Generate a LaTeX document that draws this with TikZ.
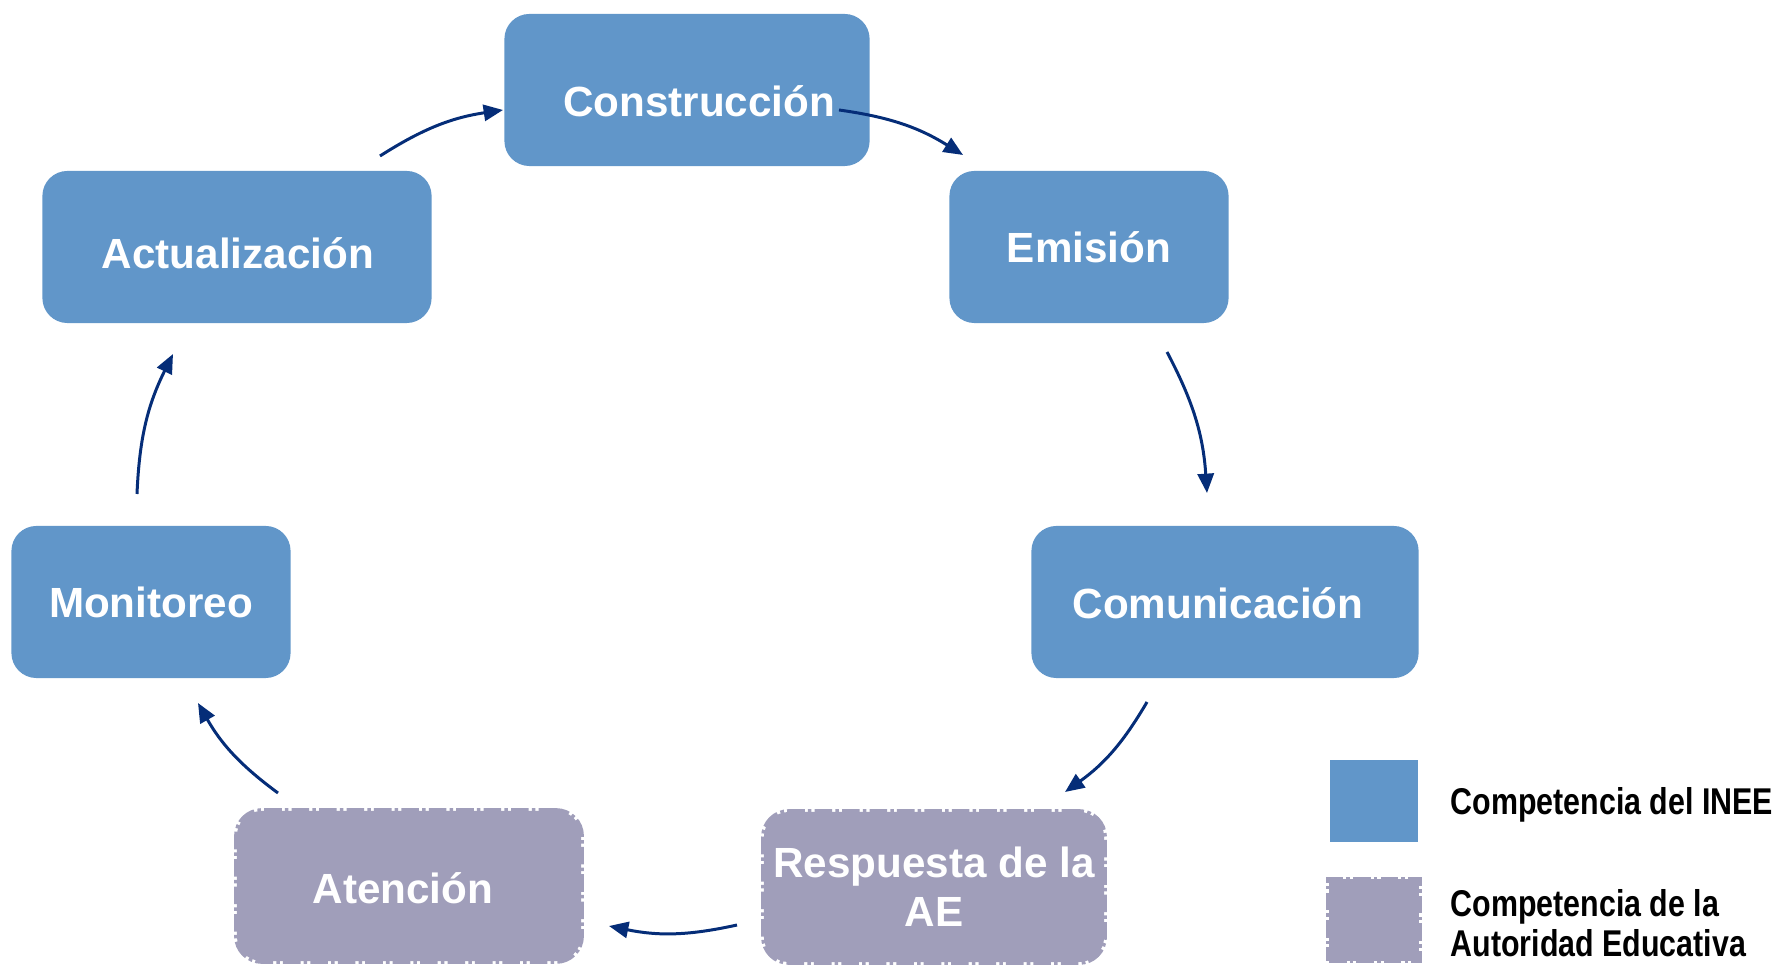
\documentclass[tikz,border=0pt]{standalone}
\usepackage{fontspec}
\setmainfont{Liberation Sans}
\newfontfamily\narrowfont[FakeStretch=0.815]{Liberation Sans}
\usetikzlibrary{positioning,arrows.meta}
\definecolor{ineeblue}{RGB}{97,150,201}
\definecolor{aegray}{RGB}{160,158,186}
\definecolor{flownavy}{RGB}{5,45,120}

\begin{document}
\begin{tikzpicture}[x=0.01cm,y=-0.01cm,inee/.style={fill=ineeblue,rounded
corners=0.25cm,minimum height=1.52cm,inner sep=0pt,text=white,
font=\bfseries\fontsize{12}{13.9}\selectfont,align=center},ae/.style={inee,
fill=aegray,draw=aegray,line width=1.6pt,dash pattern=on 5pt off 0.9pt on 1pt off 0.9pt,
minimum height=1.5cm},boxtext/.style={text=white,font=\bfseries\fontsize{12}{13.9}\selectfont},
flow/.style={draw=flownavy,line width=0.85pt,
-{Triangle[length=5.5pt,width=4.6pt]},bend left=12},keytext/.style={anchor=west,
inner sep=0pt,align=left,font=\narrowfont\bfseries\fontsize{10.6}{11.4}\selectfont}]
\useasboundingbox (0,0) rectangle (1777,965);
\node[inee,minimum width=3.65cm,label={[boxtext,xshift=0.12cm,yshift=-0.11cm]center:Construcción}]
  (cons) at (687,90) {};
\node[inee,minimum width=2.79cm] (emis) at (1089,247) {Emisión};
\node[inee,minimum width=3.87cm,label={[boxtext,xshift=-0.07cm,yshift=-0.01cm]center:Comunicación}]
  (comu) at (1225,602) {};
\node[ae,minimum width=3.4cm] (resp) at (934,887) {Respuesta de la\\AE};
\node[ae,minimum width=3.44cm,label={[boxtext,xshift=-0.06cm,yshift=-0.02cm]center:Atención}]
  (aten) at (409,886) {};
\node[inee,minimum width=2.79cm] (moni) at (151,602) {Monitoreo};
\node[inee,minimum width=3.89cm,label={[boxtext,xshift=0.01cm,yshift=-0.06cm]center:Actualización}]
  (actu) at (237,247) {};
\coordinate (actu out) at (380,156);
\coordinate (cons in) at (503,110);
\coordinate (cons out) at (839,110);
\coordinate (emis in) at (963,155);
\coordinate (emis out) at (1167,352);
\coordinate (comu in) at (1207,493);
\coordinate (comu out) at (1147,702);
\coordinate (resp in) at (1065,792);
\coordinate (resp out) at (737,925);
\coordinate (aten in) at (609,926);
\coordinate (aten out) at (278,793);
\coordinate (moni in) at (198,703);
\coordinate (moni out) at (137,494);
\coordinate (actu in) at (173,354);
\draw[flow] (actu out) to (cons in);
\draw[flow] (cons out) to (emis in);
\draw[flow] (emis out) to (comu in);
\draw[flow] (comu out) to (resp in);
\draw[flow] (resp out) to (aten in);
\draw[flow] (aten out) to (moni in);
\draw[flow] (moni out) to (actu in);
\node[fill=ineeblue,minimum width=0.88cm,minimum height=0.81cm,inner sep=0pt] (key1) at (1374,801) {};
\node[fill=aegray,draw=aegray,line width=1.6pt,dash pattern=on 5pt off 0.9pt on 1pt off 0.9pt,
  minimum width=0.9cm,minimum height=0.81cm,inner sep=0pt] (key2) at (1374,920) {};
\node[keytext] (keytext1) at (1450,805) {Competencia del INEE};
\node[keytext] (keytext2) at (1450,923) {Competencia de la\\Autoridad Educativa};
\end{tikzpicture}
\end{document}
